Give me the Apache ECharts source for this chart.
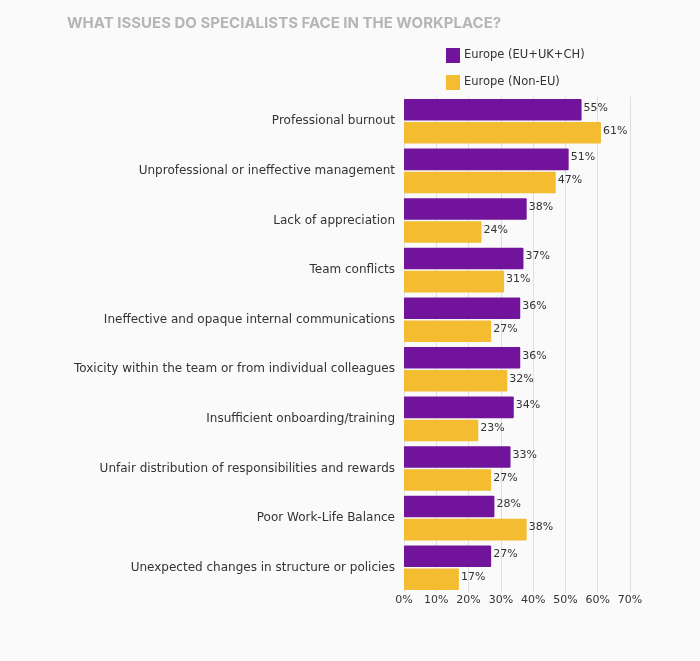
<!DOCTYPE html>
<html>
<head>
<meta charset="utf-8">
<style>
html,body{margin:0;padding:0;background:#fafafa;}
#chart{width:700px;height:661px;}
</style>
<script src="https://cdn.jsdelivr.net/npm/echarts@6/dist/echarts.min.js"></script>
</head>
<body>
<div id="chart"></div>
<script>
var categories = [
    'Professional burnout',
    'Unprofessional or ineffective management',
    'Lack of appreciation',
    'Team conflicts',
    'Ineffective and opaque internal communications',
    'Toxicity within the team or from individual colleagues',
    'Insufficient onboarding/training',
    'Unfair distribution of responsibilities and rewards',
    'Poor Work-Life Balance',
    'Unexpected changes in structure or policies'
];
var euValues = [55, 51, 38, 37, 36, 36, 34, 33, 28, 27];
var nonEuValues = [61, 47, 24, 31, 27, 32, 23, 27, 38, 17];
var euName = 'Europe (EU+UK+CH)';
var nonEuName = 'Europe (Non-EU)';
var fontName = 'DejaVu Sans';

var chart = echarts.init(document.getElementById('chart'));

function barSeries(name, values, color){
    return {
        name: name,
        type: 'bar',
        data: values,
        barGap: '7%',
        barCategoryGap: '10%',
        itemStyle: {color: color, borderRadius: 1},
        label: {
            show: true,
            position: 'right',
            distance: 2,
            offset: [0, -2],
            formatter: '{c}%',
            color: '#333333',
            fontFamily: fontName,
            fontSize: 11
        }
    };
}

chart.setOption({
    backgroundColor: '#fafafa',
    animation: false,
    title: {
        text: 'WHAT ISSUES DO SPECIALISTS FACE IN THE WORKPLACE?',
        left: 62,
        top: 11,
        textStyle: {color: '#b5b5b5', fontFamily: 'Inter', fontSize: 15, fontWeight: 700}
    },
    legend: {
        orient: 'vertical',
        left: 441,
        top: 43,
        itemWidth: 14,
        itemHeight: 15,
        itemGap: 12,
        icon: 'rect',
        data: [euName, nonEuName],
        textStyle: {color: '#333333', fontFamily: fontName, fontSize: 11.5, padding: [0, 0, 0, -1]}
    },
    grid: {left: 404, top: 96.5, width: 226, height: 496},
    xAxis: {
        type: 'value',
        min: 0,
        max: 70,
        interval: 10,
        axisLine: {show: false},
        axisTick: {show: false},
        splitLine: {lineStyle: {color: '#dedede', width: 1}},
        axisLabel: {
            formatter: '{value}%',
            color: '#333333',
            fontFamily: fontName,
            fontSize: 11,
            margin: 2
        }
    },
    yAxis: {
        type: 'category',
        inverse: true,
        data: categories,
        axisLine: {show: false},
        axisTick: {show: false},
        axisLabel: {
            color: '#333333',
            fontFamily: fontName,
            fontSize: 12,
            margin: 9
        }
    },
    series: [
        barSeries(euName, euValues, '#71149b'),
        barSeries(nonEuName, nonEuValues, '#f4bc30')
    ]
});
</script>
</body>
</html>
